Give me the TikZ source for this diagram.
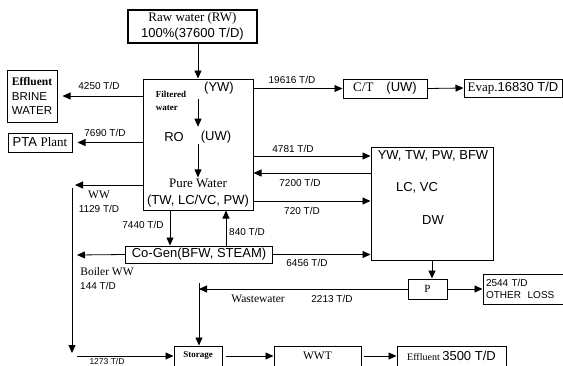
\documentclass[tikz,border=0pt]{standalone}
\usepackage{fontspec}
\setmainfont{Liberation Serif}
\setsansfont{Liberation Sans}
\usetikzlibrary{arrows.meta}

\begin{document}
\begin{tikzpicture}[
    x=1pt, y=-1pt,
    every node/.style={inner sep=1pt, font=\fontsize{13}{15}\selectfont},
    caja/.style={draw, line width=1pt},
    flujo/.style={-{Triangle[length=8pt,width=7pt]}, line width=.8pt},
    sf/.style={font=\sffamily\fontsize{13}{15}\selectfont},
    etq/.style={font=\sffamily\fontsize{10}{11}\selectfont}]
    \useasboundingbox (0,0) rectangle (563,365);
    \clip (0,0) rectangle (563,365);

    % Agua cruda y planta de filtrado.
    \node[caja, line width=1.4pt, minimum width=129, minimum height=33, align=center,
        font=\fontsize{13}{16}\selectfont] (rw) at (192.5,26.5)
        {Raw water (RW)\\\sffamily 100\%(37600 T/D)};
    \node[caja, minimum width=110, minimum height=131] (main) at (198,144.5) {};
    \node[font=\bfseries\fontsize{9}{13}\selectfont, align=left] (filt) at (171,101)
        {Filtered\\water};
    \node[sf] (yw) at (219,88) {(YW)};
    \node[sf] (ro) at (174,137) {RO};
    \node[sf] (uw) at (216,137) {(UW)};
    \node (pw) at (198,183) {Pure Water};
    \node[sf] (tw) at (198,201) {(TW, LC/VC, PW)};
    \draw[flujo] (rw.south -| main) -- (main.north);
    \draw[flujo] ([yshift=-4]yw.south -| main) -- ([yshift=3]uw.north -| main);
    \draw[flujo] (uw.south -| main) -- (pw.north -| main);

    % Salidas hacia la izquierda.
    \node[caja, minimum width=50, minimum height=52, align=left,
        font=\sffamily\fontsize{11.5}{14.5}\selectfont] (brine) at (32,96)
        {\rmfamily\bfseries Effluent\\BRINE\\WATER};
    \node[caja, minimum width=64, minimum height=19] (pta) at (40,142.5)
        {\sffamily PTA \rmfamily Plant};
    \coordinate (ww) at (75,185);
    \coordinate (wwbajo) at (72,353);
    \draw[flujo] (main.west |- brine) -- ([xshift=5]brine.east);
    \draw[flujo] (main.west |- pta) -- ([xshift=5]pta.east);
    \draw[flujo] (main.west |- ww) -- (ww);
    \draw[flujo] ([shift={(-3,3)}]ww) -- (wwbajo);
    \node[etq] (l4250) at (99,86) {4250 T/D};
    \node[etq] (l7690) at (105,133) {7690 T/D};
    \node[font=\fontsize{11.5}{13}\selectfont] (lww) at (99,195) {WW};
    \node[etq] (l1129) at (99,209) {1129 T/D};

    % Torre de enfriamiento.
    \node[caja, minimum width=84, minimum height=19] (ct) at (385,88.5)
        {C/T\quad\sffamily (UW)};
    \node[caja, minimum width=98, minimum height=18] (evap) at (513,88)
        {Evap.\sffamily 16830 T/D};
    \draw[flujo] (main.east |- ct) -- (ct.west);
    \draw[flujo] (ct.east) -- (evap.west);
    \node[etq] (l19616) at (292,80) {19616 T/D};

    % Usuarios de agua.
    \node[caja, minimum width=122, minimum height=113] (dw) at (432,203.5) {};
    \node[sf] (ywdw) at (433,156) {YW, TW, PW, BFW};
    \node[sf] (lcvc) at (417,188) {LC, VC};
    \node[sf] (ldw) at (433,220) {DW};
    \coordinate (ret) at (0,173);
    \draw[flujo] (main.east |- ywdw) -- (dw.west |- ywdw);
    \draw[flujo] (dw.west |- ret) -- (main.east |- ret);
    \draw[flujo] (main.east |- tw) -- (dw.west |- tw);
    \node[etq] (l4781) at (293,149) {4781 T/D};
    \node[etq] (l7200) at (300,183) {7200 T/D};
    \node[etq] (l720) at (302,211) {720 T/D};

    % Cogeneracion.
    \node[caja, minimum width=147, minimum height=17] (cogen) at (199,254.5)
        {\sffamily Co-Gen(BFW, STEAM)};
    \coordinate (boiler) at (77,255);
    \draw[flujo] ([xshift=-28]main.south) -- ([xshift=-28]main.south |- cogen.north);
    \draw[flujo] ([xshift=28]main.south |- cogen.north) -- ([xshift=28]main.south);
    \draw[flujo] (cogen.west) -- (boiler);
    \draw[flujo] (cogen.east) -- (dw.west |- cogen);
    \node[etq] (l7440) at (143,225) {7440 T/D};
    \node[etq] (l840) at (247,232) {840 T/D};
    \node[etq] (l6456) at (307,263) {6456 T/D};
    \node[font=\fontsize{11.5}{13}\selectfont] (lboiler) at (107,272) {Boiler WW};
    \node[etq] (l144) at (98,286) {144 T/D};

    % Bomba, perdidas y agua residual.
    \node[caja, minimum width=39, minimum height=20, font=\fontsize{11}{13}\selectfont]
        (p) at (427.5,289) {P};
    \node[caja, minimum width=80, minimum height=30, align=left, text width=74,
        font=\sffamily\fontsize{10}{12}\selectfont] (loss) at (523,289)
        {2544 T/D\\OTHER\ \ LOSS};
    \coordinate (ws) at (199,289);
    \draw[flujo] (dw.south) -- (dw.south |- p.north);
    \draw[flujo] (p.east) -- (loss.west);
    \draw[flujo] (p.west) -- (ws);
    \node[font=\fontsize{11.5}{13}\selectfont] (lws) at (258,299) {Wastewater};
    \node[etq] (l2213) at (332,299) {2213 T/D};

    % Almacenamiento y tratamiento.
    \node[caja, minimum width=48, minimum height=20, font=\bfseries\fontsize{9}{10}\selectfont]
        (storage) at (198,356) {Storage};
    \node[caja, minimum width=87, minimum height=20, font=\fontsize{11.5}{13}\selectfont]
        (wwt) at (317.5,356) {WWT};
    \node[caja, minimum width=109, minimum height=20] (eff) at (451.5,356)
        {\fontsize{10}{12}\selectfont Effluent \sffamily\fontsize{13}{15}\selectfont 3500 T/D};
    \draw[flujo] ([yshift=6]ws) -- (ws |- storage.north);
    \draw[flujo] ([xshift=5]wwbajo |- storage) -- (storage.west);
    \draw[flujo, shorten <=3pt] (storage.east) -- (wwt.west);
    \draw[flujo, shorten <=2pt] (wwt.east) -- (eff.west);
    \node[etq, font=\sffamily\fontsize{8.5}{9}\selectfont] (l1273) at (107,361.5) {1273 T/D};
\end{tikzpicture}
\end{document}
